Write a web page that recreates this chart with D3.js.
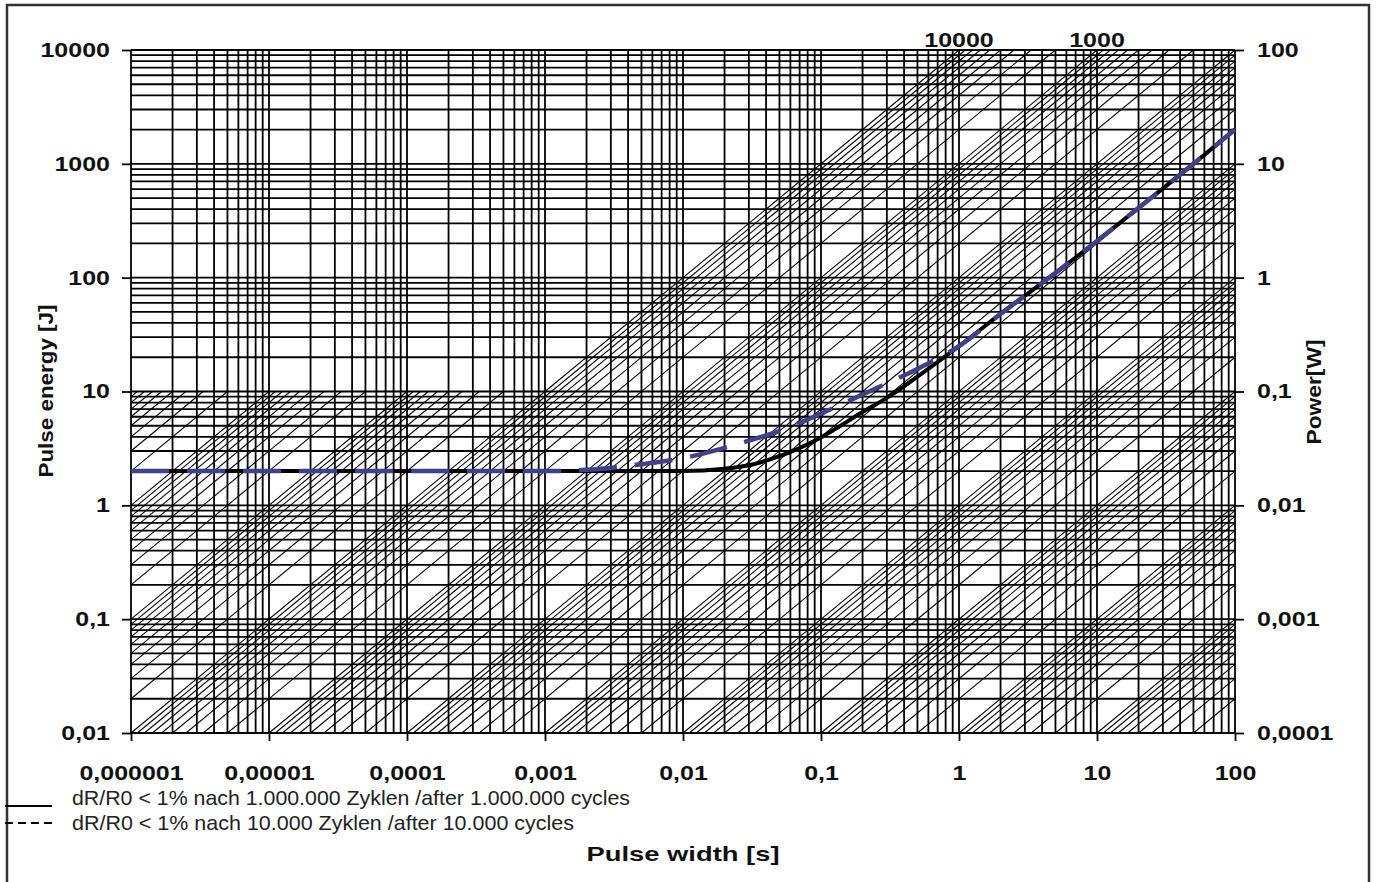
<!DOCTYPE html>
<html>
<head>
<meta charset="utf-8">
<script src="https://cdn.jsdelivr.net/npm/d3@7"></script>
<style>
  body { margin: 0; background: #fff; }
  svg { display: block; }
</style>
</head>
<body>
<div id="chart"></div>
<script>
// Axis ticks and labels (German decimal comma as in the original)
const xTicks = [1e-6, 1e-5, 1e-4, 1e-3, 0.01, 0.1, 1, 10, 100];
const xTickLabels = ["0,000001", "0,00001", "0,0001", "0,001", "0,01", "0,1", "1", "10", "100"];
const yTicks = [0.01, 0.1, 1, 10, 100, 1000, 10000];
const yTickLabels = ["0,01", "0,1", "1", "10", "100", "1000", "10000"];
const powerTickLabels = ["0,0001", "0,001", "0,01", "0,1", "1", "10", "100"];

// Diagonal lines E = c * t, c = mantissa * 10^decade
const diagMantissas = [1, 2, 3, 4, 5, 6, 7, 8, 9];
const diagDecades = [-4, -3, -2, -1, 0, 1, 2, 3, 4, 5, 6];
const diagFullMax = 10000;   // lines up to this c run over the whole plot
const diagCapEnergy = 10;    // steeper ones stop at this energy
const diagLabels = [10000, 1000];

// Curves
const pulseWidth = [1e-6, 1e-5, 1e-4, 1e-3, 0.002, 0.005, 0.01, 0.02, 0.03, 0.05, 0.1, 0.2, 0.3, 0.5, 1, 2, 5, 10, 20, 50, 100];
const energy1M   = [2, 2, 2, 2, 2, 2, 2, 2.1, 2.25, 2.7, 3.95, 6.6, 8.8, 13.5, 25, 48, 110, 210, 410, 1000, 2000];
const energy10k  = [2, 2, 2, 2, 2.05, 2.3, 2.6, 3.2, 3.7, 4.5, 6.4, 9.4, 11.8, 15.8, 25, 48, 110, 210, 410, 1000, 2000];

const legendLabels = [
  "dR/R0 < 1% nach 1.000.000 Zyklen /after 1.000.000 cycles",
  "dR/R0 < 1% nach 10.000 Zyklen /after 10.000 cycles"
];

const W = 1376, H = 882;
const plot = {left: 131, right: 1235, top: 50, bottom: 733};

const svg = d3.select("#chart").append("svg")
    .attr("width", W)
    .attr("height", H);

// outer frame
svg.append("rect")
    .attr("x", 7).attr("y", 5)
    .attr("width", 1362).attr("height", 900)
    .attr("fill", "#fff")
    .attr("stroke", "#333")
    .attr("stroke-width", 2.5);

const x = d3.scaleLog().domain([1e-6, 100]).range([plot.left, plot.right]);
const y = d3.scaleLog().domain([0.01, 10000]).range([plot.bottom, plot.top]);
const yPow = d3.scaleLog().domain([0.0001, 100]).range([plot.bottom, plot.top]);

// stretch text horizontally like the original wide bold font
function stretch(sel, f) {
  sel.each(function() {
    const w = this.getComputedTextLength();
    d3.select(this).attr("textLength", w * f).attr("lengthAdjust", "spacingAndGlyphs");
  });
}
function fitTo(sel, len) {
  sel.attr("textLength", len).attr("lengthAdjust", "spacingAndGlyphs");
}

// minor + major grid
const xGrid = [];
for (let e = -6; e < 2; e++) for (let k = 1; k <= 9; k++) xGrid.push(k * Math.pow(10, e));
xGrid.push(100);
const yGrid = [];
for (let e = -2; e < 4; e++) for (let k = 1; k <= 9; k++) yGrid.push(k * Math.pow(10, e));
yGrid.push(10000);

const grid = svg.append("g").attr("stroke", "#000").attr("stroke-width", 1.8);
grid.selectAll(".vx")
    .data(xGrid)
    .join("line")
    .attr("x1", d => x(d)).attr("x2", d => x(d))
    .attr("y1", plot.top).attr("y2", plot.bottom);
grid.selectAll(".hy")
    .data(yGrid)
    .join("line")
    .attr("y1", d => y(d)).attr("y2", d => y(d))
    .attr("x1", plot.left).attr("x2", plot.right);

// diagonal power lines
const diags = [];
diagDecades.forEach(e => diagMantissas.forEach(k => {
  const c = k * Math.pow(10, e);
  const eMax = c <= diagFullMax ? 10000 : diagCapEnergy;
  const t0 = Math.max(1e-6, 0.01 / c);
  const t1 = Math.min(100, eMax / c);
  if (t1 > t0 * 1.0001) diags.push({c, t0, t1});
}));

svg.append("g")
    .selectAll("line")
    .data(diags)
    .join("line")
    .attr("x1", d => x(d.t0)).attr("y1", d => y(d.c * d.t0))
    .attr("x2", d => x(d.t1)).attr("y2", d => y(d.c * d.t1))
    .attr("stroke", "#000")
    .attr("stroke-width", 1.05);

// curves
const line = d3.line()
    .x(d => x(d[0]))
    .y(d => y(d[1]))
    .curve(d3.curveMonotoneX);

svg.append("path")
    .datum(d3.zip(pulseWidth, energy1M))
    .attr("d", line)
    .attr("fill", "none")
    .attr("stroke", "#000")
    .attr("stroke-width", 4);

svg.append("path")
    .datum(d3.zip(pulseWidth, energy10k))
    .attr("d", line)
    .attr("fill", "none")
    .attr("stroke", "#40408c")
    .attr("stroke-width", 4.5)
    .attr("stroke-dasharray", "38,18");

// axes
const tickFont = g => g
    .call(g => g.select(".domain").remove())
    .call(g => g.selectAll(".tick line").attr("stroke", "#000").attr("stroke-width", 1.8))
    .call(g => g.selectAll("text")
        .attr("fill", "#111")
        .style("font-family", "'Liberation Sans', Arial, sans-serif")
        .style("font-weight", "bold")
        .style("font-size", "20px"));

const axL = svg.append("g")
    .attr("transform", `translate(${plot.left},0)`)
    .call(d3.axisLeft(y).tickValues(yTicks).tickFormat((d, i) => yTickLabels[i]).tickSize(9).tickPadding(12))
    .call(tickFont);
stretch(axL.selectAll("text"), 1.25);

const axR = svg.append("g")
    .attr("transform", `translate(${plot.right},0)`)
    .call(d3.axisRight(yPow).tickValues(yTicks.map(v => v / 100)).tickFormat((d, i) => powerTickLabels[i]).tickSize(9).tickPadding(13))
    .call(tickFont);
stretch(axR.selectAll("text"), 1.25);

const axB = svg.append("g")
    .attr("transform", `translate(0,${plot.bottom})`)
    .call(d3.axisBottom(x).tickValues(xTicks).tickFormat((d, i) => xTickLabels[i]).tickSize(8).tickPadding(25))
    .call(tickFont);
stretch(axB.selectAll("text"), 1.25);

// labels of the c = 10000 and c = 1000 lines where they hit the top edge
svg.append("g")
    .selectAll("text")
    .data(diagLabels)
    .join("text")
    .attr("x", d => x(10000 / d))
    .attr("y", 47)
    .attr("text-anchor", "middle")
    .attr("fill", "#111")
    .style("font-family", "'Liberation Sans', Arial, sans-serif")
    .style("font-weight", "bold")
    .style("font-size", "20px")
    .text(d => d)
    .call(stretch, 1.25);

// axis titles
const titleStyle = s => s
    .attr("text-anchor", "middle")
    .attr("fill", "#111")
    .style("font-family", "'Liberation Sans', Arial, sans-serif")
    .style("font-weight", "bold")
    .style("font-size", "21px");

svg.append("text")
    .attr("x", (plot.left + plot.right) / 2).attr("y", 861)
    .text("Pulse width [s]")
    .call(titleStyle)
    .call(fitTo, 193);

svg.append("text")
    .attr("transform", "translate(53,391) rotate(-90)")
    .text("Pulse energy [J]")
    .call(titleStyle)
    .call(fitTo, 173);

svg.append("text")
    .attr("transform", "translate(1321,392) rotate(-90)")
    .text("Power[W]")
    .call(titleStyle)
    .call(fitTo, 105);

// legend
const legend = svg.append("g");
legend.append("line")
    .attr("x1", 5).attr("x2", 52).attr("y1", 806).attr("y2", 806)
    .attr("stroke", "#000").attr("stroke-width", 2);
legend.append("line")
    .attr("x1", 5).attr("x2", 52).attr("y1", 823).attr("y2", 823)
    .attr("stroke", "#000").attr("stroke-width", 2)
    .attr("stroke-dasharray", "8,5");
legend.selectAll("text")
    .data(legendLabels)
    .join("text")
    .attr("x", 72)
    .attr("y", (d, i) => 805 + i * 25)
    .attr("fill", "#222")
    .style("font-family", "'Liberation Sans', Arial, sans-serif")
    .style("font-size", "21px")
    .text(d => d)
    .each(function(d, i) { fitTo(d3.select(this), i === 0 ? 558 : 502); });
</script>
</body>
</html>
